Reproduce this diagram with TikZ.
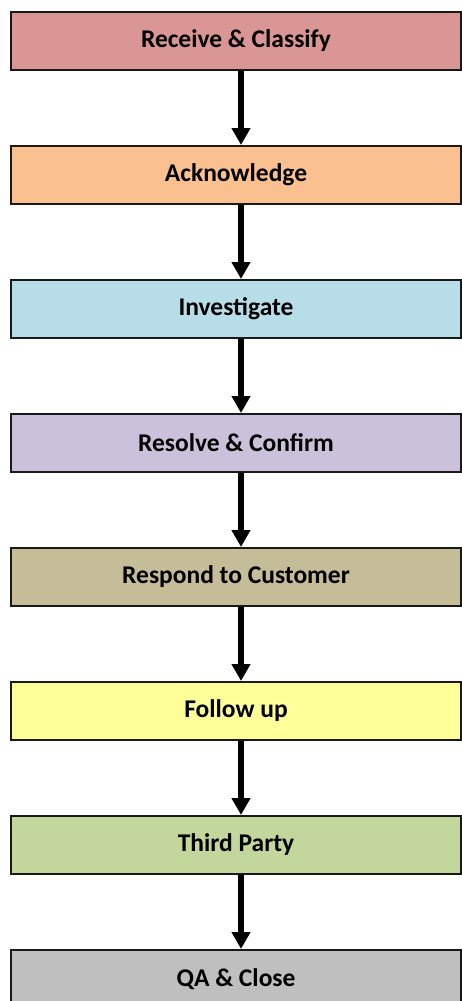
\documentclass[tikz,border=0pt]{standalone}
\usepackage{fontspec}
\setmainfont{Carlito}
\usepackage{xcolor}
\usepackage{tikz}
\usetikzlibrary{arrows.meta, positioning}
\definecolor{stagered}{HTML}{D99694}
\definecolor{stageorange}{HTML}{FAC090}
\definecolor{stageblue}{HTML}{B7DEE8}
\definecolor{stagepurple}{HTML}{CCC1DA}
\definecolor{stagetan}{HTML}{C4BD97}
\definecolor{stageyellow}{HTML}{FFFF99}
\definecolor{stagegreen}{HTML}{C3D69B}
\definecolor{stagegray}{HTML}{BFBFBF}
\begin{document}
\begin{tikzpicture}[
    x=1pt, y=-1pt,
    stage/.style={draw=black!90, line width=2pt, rectangle, minimum width=450pt,
                  minimum height=58pt, inner sep=0pt,
                  font=\fontsize{25.5}{30}\selectfont\bfseries},
    flow/.style={line width=6pt, -{Triangle[width=18pt, length=17pt]}}
]
\useasboundingbox (0,0) rectangle (462,1001);
\clip (0,0) rectangle (462,1001);
\node[stage, fill=stagered]    (recv)  at (236,41)    {Receive \& Classify};
\node[stage, fill=stageorange] (ack)   at (236,175)   {Acknowledge};
\node[stage, fill=stageblue]   (inv)   at (236,309)   {Investigate};
\node[stage, fill=stagepurple] (res)   at (236,443)   {Resolve \& Confirm};
\node[stage, fill=stagetan]    (resp)  at (236,577)   {Respond to Customer};
\node[stage, fill=stageyellow] (fup)   at (236,711)   {Follow up};
\node[stage, fill=stagegreen]  (third) at (236,845)   {Third Party};
\node[stage, fill=stagegray]   (qa)    at (236,979)   {QA \& Close};
\draw[flow] ([xshift=5pt]recv.south) -- ([xshift=5pt]ack.north);
\draw[flow] ([xshift=5pt]ack.south)  -- ([xshift=5pt]inv.north);
\draw[flow] ([xshift=5pt]inv.south)  -- ([xshift=5pt]res.north);
\draw[flow] ([xshift=5pt]res.south)  -- ([xshift=5pt]resp.north);
\draw[flow] ([xshift=5pt]resp.south) -- ([xshift=5pt]fup.north);
\draw[flow] ([xshift=5pt]fup.south)  -- ([xshift=5pt]third.north);
\draw[flow] ([xshift=5pt]third.south) -- ([xshift=5pt]qa.north);
\end{tikzpicture}
\end{document}
